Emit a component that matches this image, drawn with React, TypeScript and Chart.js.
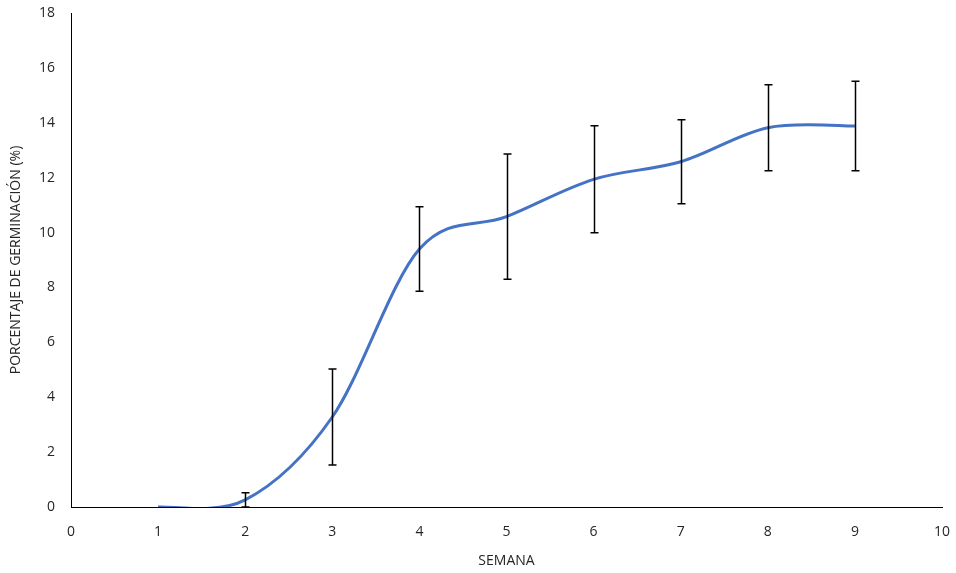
import React, { useEffect, useRef } from "react";
import { Chart, registerables } from "chart.js";

Chart.register(...registerables);

const weeks = [1, 2, 3, 4, 5, 6, 7, 8, 9];
const means = [0, 0.26, 3.28, 9.4, 10.58, 11.94, 12.58, 13.82, 13.88];
const errors = [0, 0.26, 1.75, 1.54, 2.28, 1.95, 1.53, 1.57, 1.63];
const xTitle = "SEMANA";
const yTitle = "PORCENTAJE DE GERMINACIÓN (%)";

// Excel-like (Catmull-Rom) smoothing: adjust the control points of the library's own line points
const smoothPlugin = {
  id: "excelSmooth",
  beforeDatasetsDraw(chart: any) {
    const meta = chart.getDatasetMeta(0);
    const pts = meta.data;
    for (let i = 0; i < pts.length; i++) {
      const p = pts[i];
      const prev = pts[i - 1] || p;
      const next = pts[i + 1] || p;
      const dx = (next.x - prev.x) / 6;
      const dy = (next.y - prev.y) / 6;
      p.cp1x = p.x - dx;
      p.cp1y = p.y - dy;
      p.cp2x = p.x + dx;
      p.cp2y = p.y + dy;
    }
  },
};

const errorBarPlugin = {
  id: "errorBars",
  afterDatasetsDraw(chart: any) {
    const { ctx, scales } = chart;
    const xs = scales.x;
    const ys = scales.y;
    ctx.save();
    ctx.strokeStyle = "#000";
    ctx.lineWidth = 1.5;
    weeks.forEach((w, i) => {
      const e = errors[i];
      if (!e) return;
      const px = Math.round(xs.getPixelForValue(w)) + 0.5;
      const top = ys.getPixelForValue(means[i] + e);
      const bot = ys.getPixelForValue(means[i] - e);
      ctx.beginPath();
      ctx.moveTo(px, top);
      ctx.lineTo(px, bot);
      ctx.moveTo(px - 4, top);
      ctx.lineTo(px + 4, top);
      ctx.moveTo(px - 4, bot);
      ctx.lineTo(px + 4, bot);
      ctx.stroke();
    });
    ctx.restore();
  },
};

export default function App() {
  const ref = useRef<HTMLCanvasElement>(null);
  useEffect(() => {
    document.body.style.margin = "0";
    const font = { family: "Open Sans", size: 14 };
    const color = "#262626";
    const chart = new Chart(ref.current as HTMLCanvasElement, {
      type: "line",
      data: {
        datasets: [
          {
            data: weeks.map((w, i) => ({ x: w, y: means[i] })),
            borderColor: "#4472C4",
            borderWidth: 3,
            pointRadius: 0,
            tension: 0.4,
            fill: false,
          },
        ],
      },
      options: {
        animation: false,
        responsive: false,
        elements: { line: { capBezierPoints: false } },
        layout: { padding: { top: 13, right: 14, left: 0, bottom: 0 } },
        plugins: { legend: { display: false }, tooltip: { enabled: false } },
        scales: {
          x: {
            type: "linear",
            min: 0,
            max: 10,
            ticks: { stepSize: 1, color, font, padding: 17 },
            grid: { display: false, drawTicks: false },
            border: { display: true, color: "#000", width: 1 },
            title: { display: true, text: xTitle, color, font, padding: { top: 4, bottom: 4 } },
            afterFit: (s: any) => {
              s.height = 66;
              s.paddingLeft = 0;
              s.paddingRight = 0;
            },
          },
          y: {
            min: 0,
            max: 18,
            ticks: { stepSize: 2, color, font, padding: 16 },
            grid: { display: false, drawTicks: false },
            border: { display: true, color: "#000", width: 1 },
            title: { display: true, text: yTitle, color, font, padding: { top: 8, bottom: 4 } },
            afterFit: (s: any) => {
              s.width = 71;
              s.paddingTop = 0;
              s.paddingBottom = 0;
            },
          },
        },
      },
      plugins: [smoothPlugin, errorBarPlugin],
    });
    return () => chart.destroy();
  }, []);
  return <canvas ref={ref} width={956} height={573} style={{ display: "block" }} />;
}
